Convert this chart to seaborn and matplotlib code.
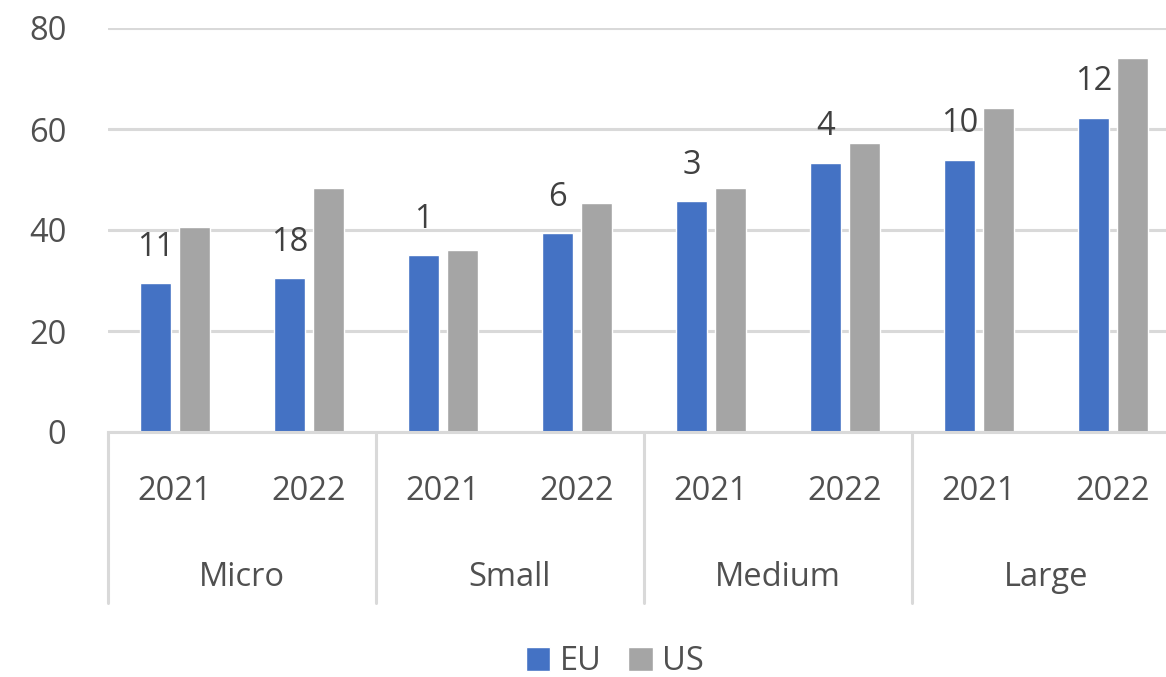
import matplotlib
matplotlib.use("Agg")
import matplotlib.pyplot as plt
import matplotlib.transforms as mtrans
import seaborn as sns
import pandas as pd

# values
sizes = ['Micro', 'Small', 'Medium', 'Large']
years = ['2021', '2022']
eu = [29.5, 30.5, 35.0, 39.4, 45.7, 53.3, 53.9, 62.2]
us = [40.6, 48.3, 36.0, 45.3, 48.3, 57.2, 64.2, 74.0]
gap_labels = ['11', '18', '1', '6', '3', '4', '10', '12']

slots = [s + ' ' + y for s in sizes for y in years]
df = pd.DataFrame({
    'slot': slots * 2,
    'value': eu + us,
    'region': ['EU'] * len(slots) + ['US'] * len(slots),
})

sns.set_style("white")
plt.rcParams['font.family'] = ['Open Sans', 'DejaVu Sans']
txt = '#505050'
grid = '#D9D9D9'
fs = 23.5

fig = plt.figure(figsize=(11.66, 6.77), dpi=100)
ax = fig.add_axes([108 / 1166, 1 - 432 / 677, 1 - 108 / 1166, 404 / 677])

sns.barplot(data=df, x='slot', y='value', hue='region', order=slots,
            palette={'EU': '#4472C4', 'US': '#A5A5A5'}, saturation=1,
            width=0.58, gap=0.2, ax=ax, legend=True)

ax.set_ylim(0, 80)
ax.set_xlim(-0.5, 7.396)
ax.set_yticks([0, 20, 40, 60, 80])
ax.yaxis.grid(True, color=grid, linewidth=2.2)
ax.set_axisbelow(True)
for s in ['top', 'right', 'left']:
    ax.spines[s].set_visible(False)
ax.spines['bottom'].set_color(grid)
ax.spines['bottom'].set_linewidth(2.2)
ax.tick_params(axis='y', length=0, pad=30, labelsize=fs, labelcolor=txt)
ax.tick_params(axis='x', length=0, pad=31, labelsize=fs, labelcolor=txt)
ax.set_xticks(range(len(slots)))
ax.set_xticklabels([y for s in sizes for y in years])
ax.set_xlabel('')
ax.set_ylabel('')

# data labels above the EU bars
ax.bar_label(ax.containers[0], labels=gap_labels, padding=14,
             fontsize=fs, color='#404040')

# category labels and separators
tr = mtrans.blended_transform_factory(ax.transData, ax.transAxes)
for i, s in enumerate(sizes):
    ax.text(2 * i + 0.5, -0.359, s, transform=tr, ha='center', va='center',
            fontsize=fs, color=txt)
for i in range(len(sizes) + 1):
    ax.plot([2 * i - 0.5, 2 * i - 0.5], [0, -0.423], transform=tr,
            color=grid, linewidth=2.2, clip_on=False)

handles, labels = ax.get_legend_handles_labels()
ax.get_legend().remove()
fig.legend(handles, labels, loc='center', bbox_to_anchor=(615 / 1166, 1 - 662 / 677),
           ncol=2, frameon=False, fontsize=fs, labelcolor=txt,
           handlelength=0.75, handleheight=0.75, handletextpad=0.3,
           columnspacing=0.8)

fig.savefig('out.png', dpi=100)
